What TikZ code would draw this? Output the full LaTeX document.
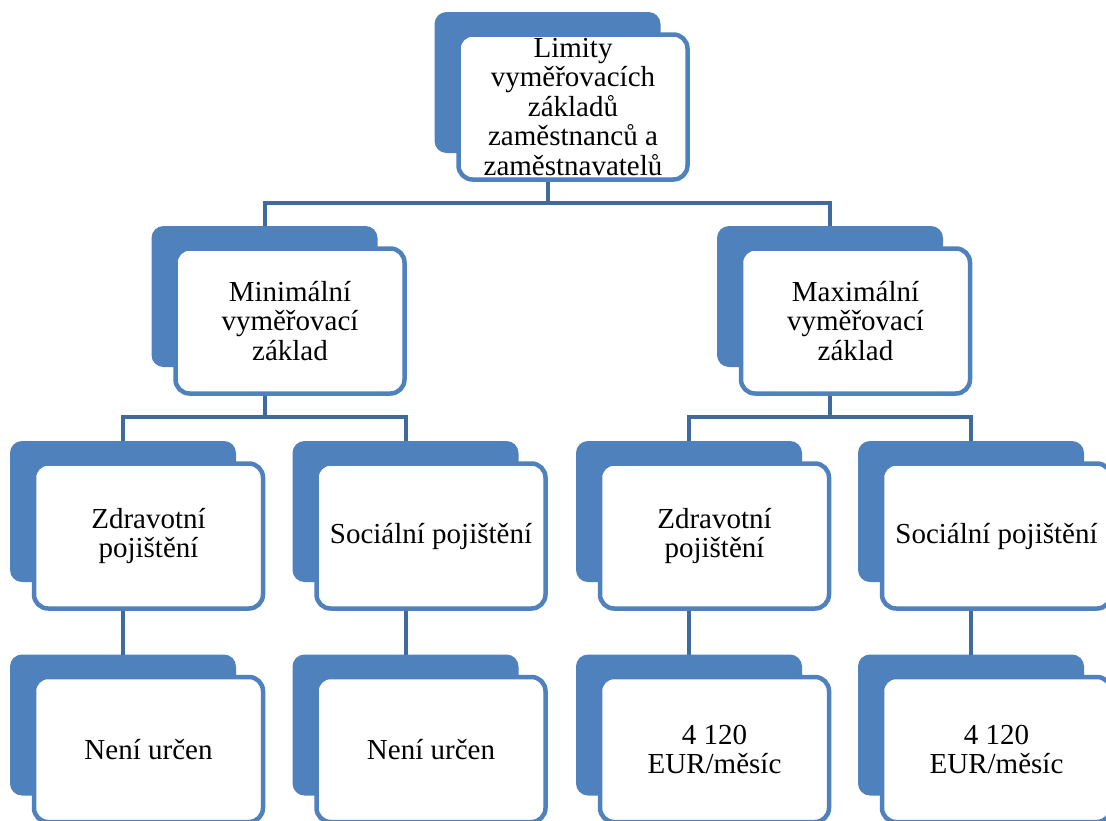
\documentclass[tikz,border=0pt]{standalone}
\usepackage{fontspec}
\setmainfont{Liberation Serif}
\usetikzlibrary{calc}
\definecolor{boxblue}{HTML}{4F81BD}
\definecolor{linkblue}{HTML}{3F6A9E}
\pgfdeclarelayer{background}
\pgfsetlayers{background,main}
\begin{document}
\begin{tikzpicture}[x=1pt,y=-1pt,
  backbox/.style={rectangle, rounded corners=12pt, fill=boxblue, minimum width=226pt, minimum height=141pt, inner sep=0pt, outer sep=0pt},
  frontbox/.style={rectangle, rounded corners=14pt, draw=boxblue, line width=4.5pt, fill=white, minimum width=229pt, minimum height=145pt, inner sep=0pt, align=center, font=\fontsize{29}{29.5}\selectfont},
  conn/.style={draw=linkblue, line width=4pt}]
\useasboundingbox (0,0) rectangle (1106,820);
\clip (0,0) rectangle (1106,820);
% bus levels
\coordinate (busT) at (0,202.5);
\coordinate (busM) at (0,417);
% back boxes
\node[backbox] (b1) at (547.5,82.5) {};
\node[backbox] (b2) at (264.5,296.5) {};
\node[backbox] (b3) at (830,296.5) {};
\node[backbox] (b4) at (123,511.5) {};
\node[backbox] (b5) at (405.5,511.5) {};
\node[backbox] (b6) at (689,511.5) {};
\node[backbox] (b7) at (971,511.5) {};
\node[backbox] (b8) at (123,725) {};
\node[backbox] (b9) at (405.5,725) {};
\node[backbox] (b10) at (689,725) {};
\node[backbox] (b11) at (971,725) {};
% front boxes
\node[frontbox] (f1) at ($(b1)+(25.5,24.5)$) {Limity\\vyměřovacích\\základů\\zaměstnanců a\\zaměstnavatelů};
\node[frontbox] (f2) at ($(b2)+(25.5,24.5)$) {Minimální\\vyměřovací\\základ};
\node[frontbox] (f3) at ($(b3)+(25.5,24.5)$) {Maximální\\vyměřovací\\základ};
\node[frontbox] (f4) at ($(b4)+(25.5,24.5)$) {Zdravotní\\pojištění};
\node[frontbox] (f5) at ($(b5)+(25.5,24.5)$) {Sociální pojištění};
\node[frontbox] (f6) at ($(b6)+(25.5,24.5)$) {Zdravotní\\pojištění};
\node[frontbox] (f7) at ($(b7)+(25.5,24.5)$) {Sociální pojištění};
\node[frontbox] (f8) at ($(b8)+(25.5,24.5)$) {Není určen};
\node[frontbox] (f9) at ($(b9)+(25.5,24.5)$) {Není určen};
\node[frontbox] (f10) at ($(b10)+(25.5,24.5)$) {4 120\\EUR/měsíc};
\node[frontbox] (f11) at ($(b11)+(25.5,24.5)$) {4 120\\EUR/měsíc};
% connectors
\begin{pgfonlayer}{background}
\draw[conn] (b1 |- f1.south) -- (b1 |- busT) -| (b2.north);
\draw[conn] (b1 |- busT) -| (b3.north);
\draw[conn] (b2 |- f2.south) -- (b2 |- busM) -| (b4.north);
\draw[conn] (b2 |- busM) -| (b5.north);
\draw[conn] (b3 |- f3.south) -- (b3 |- busM) -| (b6.north);
\draw[conn] (b3 |- busM) -| (b7.north);
\draw[conn] (b4 |- f4.south) -- (b8.north);
\draw[conn] (b5 |- f5.south) -- (b9.north);
\draw[conn] (b6 |- f6.south) -- (b10.north);
\draw[conn] (b7 |- f7.south) -- (b11.north);
\end{pgfonlayer}
\end{tikzpicture}
\end{document}
